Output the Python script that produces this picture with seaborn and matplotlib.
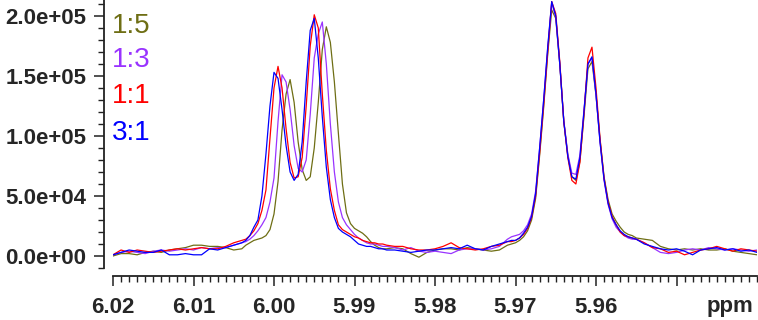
import matplotlib
matplotlib.use("Agg")
import matplotlib.pyplot as plt
import matplotlib.transforms as mtransforms
from matplotlib.ticker import MultipleLocator, FormatStrFormatter
import pandas as pd
import seaborn as sns

# chemical shift grid (ppm)
ppm = [6.020, 6.019, 6.018, 6.017, 6.016, 6.015, 6.014, 6.013, 6.012, 6.011,
       6.010, 6.009, 6.008, 6.007, 6.006, 6.005, 6.004,
       6.0035, 6.0030, 6.0025, 6.0020, 6.0015, 6.0010, 6.0005, 6.0000, 5.9995, 5.9990,
       5.9985, 5.9980, 5.9975, 5.9970, 5.9965, 5.9960, 5.9955, 5.9950, 5.9945, 5.9940,
       5.9935, 5.9930, 5.9925, 5.9920, 5.9915, 5.9910, 5.9905, 5.9900, 5.9895, 5.9890,
       5.9885, 5.9880, 5.9875, 5.9870, 5.9865,
       5.986, 5.985, 5.984, 5.983, 5.982, 5.981, 5.980, 5.979, 5.978, 5.977,
       5.976, 5.975, 5.974, 5.973, 5.972, 5.971,
       5.9705, 5.9700, 5.9695, 5.9690, 5.9685, 5.9680, 5.9675, 5.9670, 5.9665, 5.9660,
       5.9655, 5.9650, 5.9645, 5.9640, 5.9635, 5.9630, 5.9625, 5.9620, 5.9615, 5.9610,
       5.9605, 5.9600, 5.9595, 5.9590, 5.9585, 5.9580, 5.9575, 5.9570, 5.9565, 5.9560,
       5.9555,
       5.955, 5.954, 5.953, 5.952, 5.951, 5.950, 5.949, 5.948, 5.947, 5.946,
       5.945, 5.944, 5.943, 5.942, 5.941, 5.940]

# intensities in thousands
r_1_5 = [0, 2, 2, 1, 3, 4, 3, 5, 6, 7, 9, 9, 8, 8, 7, 5, 6,
         9, 11, 13, 14, 15, 17, 22, 35, 62, 105, 135, 147, 128, 95, 72, 63, 66, 90, 128, 172,
         191, 178, 145, 102, 60, 36, 27, 23, 21, 19, 16, 12, 9, 7, 6,
         6, 7, 6, 2, -1, 3, 5, 6, 6, 5, 7, 6, 5, 4, 5, 9,
         10, 11, 13, 16, 21, 30, 48, 84, 124, 168, 205, 198, 160, 112, 84, 66, 63, 79, 116, 156,
         162, 134, 97, 66, 47, 35, 29, 24, 20, 18, 17,
         15, 14, 13, 8, 6, 5, 6, 5, 6, 5, 5, 6, 4, 3, 2, 1]
r_1_3 = [1, 3, 4, 3, 2, 4, 5, 4, 5, 6, 5, 7, 6, 7, 7, 9, 11,
         12, 14, 17, 21, 26, 32, 45, 65, 112, 151, 145, 122, 92, 73, 70, 80, 118, 165, 185, 195,
         160, 110, 70, 45, 32, 26, 22, 18, 15, 13, 11, 10, 10, 9, 8,
         8, 7, 5, 7, 4, 3, 4, 3, 2, 5, 6, 6, 5, 6, 8, 14,
         16, 17, 18, 21, 26, 35, 54, 90, 130, 173, 211, 199, 160, 113, 85, 69, 68, 84, 121, 160,
         165, 134, 95, 63, 43, 31, 24, 20, 17, 15, 14,
         14, 11, 7, 3, 2, 3, 5, 6, 5, 7, 6, 5, 6, 5, 4, 5]
r_1_1 = [1, 5, 3, 5, 4, 3, 4, 5, 6, 5, 6, 7, 6, 6, 8, 11, 13,
         14, 17, 21, 27, 38, 55, 98, 140, 158, 140, 106, 78, 65, 66, 82, 125, 175, 201, 190, 135,
         88, 56, 38, 26, 22, 20, 18, 16, 15, 13, 12, 11, 11, 10, 10,
         9, 8, 8, 6, 5, 5, 6, 8, 11, 7, 6, 5, 6, 8, 9, 12,
         12, 13, 15, 18, 23, 32, 50, 86, 126, 170, 212, 202, 162, 112, 82, 63, 60, 78, 118, 165,
         174, 140, 98, 65, 45, 33, 26, 20, 17, 16, 15,
         14, 11, 7, 6, 3, 4, 1, 3, 5, 6, 8, 6, 4, 6, 5, 4]
r_3_1 = [1, 3, 5, 4, 3, 3, 5, 1, 1, 2, 1, 1, 6, 5, 7, 9, 11,
         13, 17, 24, 30, 50, 85, 125, 153, 148, 122, 92, 70, 63, 68, 95, 145, 188, 198, 165, 116,
         74, 47, 32, 23, 20, 18, 16, 13, 10, 9, 8, 8, 7, 6, 6,
         5, 5, 4, 3, 4, 5, 5, 6, 7, 6, 9, 6, 5, 8, 10, 12,
         13, 13, 15, 19, 24, 33, 52, 90, 130, 174, 212, 200, 160, 112, 83, 66, 64, 82, 120, 160,
         166, 135, 95, 64, 44, 32, 26, 21, 18, 16, 15,
         14, 10, 8, 6, 5, 6, 4, 1, 5, 6, 7, 5, 6, 4, 5, 3]

ratios = ["1:5", "1:3", "1:1", "3:1"]
colors = {"1:5": "#6e6e14", "1:3": "#9933ff", "1:1": "#ff0000", "3:1": "#0000ff"}

rows = []
for name, vals in zip(ratios, [r_1_5, r_1_3, r_1_1, r_3_1]):
    for x, v in zip(ppm, vals):
        rows.append({"ppm": x, "intensity": v * 1000.0, "ratio": name})
df = pd.DataFrame(rows)

sns.set_style("ticks")
plt.rcParams["font.family"] = ["Liberation Sans", "DejaVu Sans"]
plt.rcParams["font.weight"] = "bold"

fig = plt.figure(figsize=(7.58, 3.2), dpi=100)
ax = fig.add_axes([113 / 758, 1 - 268 / 320, 644 / 758, 268 / 320])

sns.lineplot(data=df, x="ppm", y="intensity", hue="ratio", hue_order=ratios,
             palette=colors, sort=False, estimator=None, linewidth=0.9,
             legend=False, ax=ax)

ax.set_xlim(6.02, 5.94)
ax.set_ylim(-1e4, 2.133e5)
ax.set_xlabel("")
ax.set_ylabel("")

ax.set_xticks([6.02, 6.01, 6.00, 5.99, 5.98, 5.97, 5.96, 5.95],
              labels=["6.02", "6.01", "6.00", "5.99", "5.98", "5.97", "5.96", ""])
ax.xaxis.set_minor_locator(MultipleLocator(0.001))
ax.yaxis.set_major_locator(MultipleLocator(5e4))
ax.yaxis.set_minor_locator(MultipleLocator(1e4))
ax.yaxis.set_major_formatter(FormatStrFormatter("%.1e"))

ax.tick_params(which="major", length=7.5, width=1.1, labelsize=16, pad=5, color="#222222")
ax.tick_params(axis="x", which="major", pad=7.5)
ax.tick_params(which="minor", length=4, width=1.0, color="#222222")

sns.despine(ax=ax, offset={"left": 6.5, "bottom": 5.8})
for side in ["left", "bottom"]:
    ax.spines[side].set_linewidth(1.3)
    ax.spines[side].set_color("#222222")

trans = mtransforms.blended_transform_factory(ax.transData, ax.transAxes)
ax.text(5.9405, -0.166, "ppm", transform=trans, ha="right", va="baseline",
        fontsize=16, fontweight="bold")

label_y = [0.877, 0.750, 0.616, 0.478]
for name, y in zip(ratios, label_y):
    ax.text(-0.002, y, name, transform=ax.transAxes, ha="left", va="baseline",
            fontsize=20, fontweight="normal", color=colors[name])

fig.savefig("out.png", dpi=100)
